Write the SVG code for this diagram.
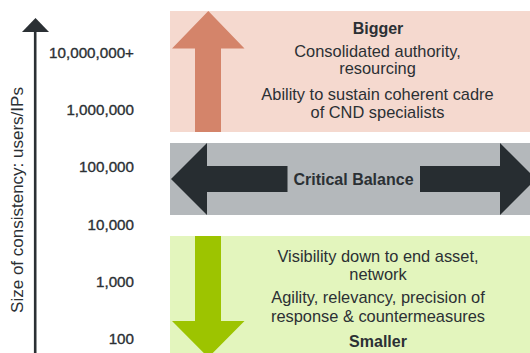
<svg xmlns="http://www.w3.org/2000/svg" width="530" height="353" viewBox="0 0 530 353">
<style>
text{font-family:"Liberation Sans",Arial,sans-serif;fill:#2b3034}
.num{font-size:15.2px;text-anchor:end;stroke:#2b3034;stroke-width:0.35}
.body{font-size:16.4px;text-anchor:middle}
.bold{font-size:16px;font-weight:bold;text-anchor:middle}
.axis-label{font-size:17px;text-anchor:middle}
</style>
<rect width="530" height="353" fill="#ffffff"/>
<g id="axis">
<line x1="35.2" y1="30" x2="35.2" y2="353" stroke="#2b3034" stroke-width="2.6"/>
<polygon points="35.5,18 49,32 22,32" fill="#2b3034"/>
<text class="axis-label" transform="translate(23,200) rotate(-90)">Size of consistency: users/IPs</text>
</g>
<g id="scale">
<text class="num" x="134" y="58">10,000,000+</text>
<text class="num" x="134" y="115">1,000,000</text>
<text class="num" x="134" y="172">100,000</text>
<text class="num" x="134" y="229.5">10,000</text>
<text class="num" x="134" y="287">1,000</text>
<text class="num" x="134" y="344">100</text>
</g>
<g id="bigger">
<rect x="170" y="11" width="360" height="121" fill="#f5d9cf"/>
<polygon points="208.3,11 244.5,48.5 221,48.5 221,132 195,132 195,48.5 172,48.5" fill="#d4846a"/>
<text class="bold" x="378" y="34">Bigger</text>
<text class="body" x="377.5" y="56.5">Consolidated authority,</text>
<text class="body" x="377.5" y="74">resourcing</text>
<text class="body" x="377.5" y="100">Ability to sustain coherent cadre</text>
<text class="body" x="377.5" y="118">of CND specialists</text>
</g>
<g id="critical-balance">
<rect x="170" y="143" width="360" height="72" fill="#b4b8bb"/>
<polygon points="171,179 207,143 207,166 287.5,166 287.5,192 207,192 207,215" fill="#272d31"/>
<polygon points="536,179 500,143 500,166 420,166 420,192 500,192 500,215" fill="#272d31"/>
<text class="bold" x="353.5" y="184.5">Critical Balance</text>
</g>
<g id="smaller">
<rect x="170" y="236" width="360" height="117" fill="#e3f5bd"/>
<polygon points="195,236 221,236 221,321 244.5,321 208.3,357.5 172,321 195,321" fill="#9dc400"/>
<text class="body" x="378" y="261.5">Visibility down to end asset,</text>
<text class="body" x="378" y="280">network</text>
<text class="body" x="378" y="303">Agility, relevancy, precision of</text>
<text class="body" x="378" y="321.5">response &amp; countermeasures</text>
<text class="bold" x="378" y="346.5">Smaller</text>
</g>
<g id="connectors"></g>
</svg>
